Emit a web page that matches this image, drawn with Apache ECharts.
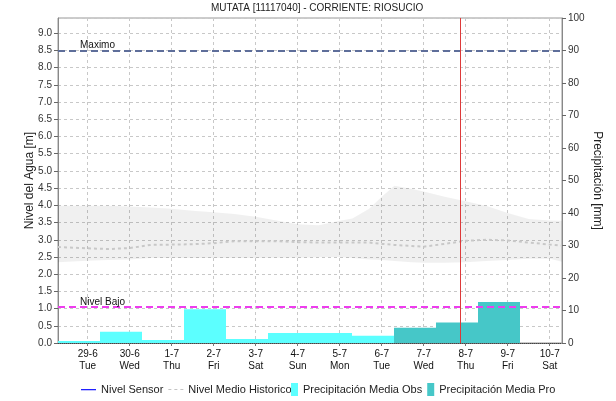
<!DOCTYPE html>
<html>
<head>
<meta charset="utf-8">
<script src="https://cdn.jsdelivr.net/npm/echarts@6/dist/echarts.min.js"></script>
<style>
  html, body { margin: 0; padding: 0; background: #fff; }
  #chart { width: 616px; height: 401px; }
</style>
</head>
<body>
<div id="chart"></div>
<script>
// x values are days counted from 29-6-2021 00:00
const tickPos = [0, 1, 2, 3, 4, 5, 6, 7, 8, 9, 10, 11];
const tickDates = ['29-6', '30-6', '1-7', '2-7', '3-7', '4-7', '5-7', '6-7', '7-7', '8-7', '9-7', '10-7'];
const tickWeekdays = ['Tue', 'Wed', 'Thu', 'Fri', 'Sat', 'Sun', 'Mon', 'Tue', 'Wed', 'Thu', 'Fri', 'Sat'];

// daily precipitation, each period runs 07:00 -> 07:00 next day
const periodStart = [-0.708, 0.292, 1.292, 2.292, 3.292, 4.292, 5.292, 6.292, 7.292, 8.292, 9.292];
const precipObs = [0.6, 3.5, 0.9, 10.4, 1.2, 3.1, 3.1, 2.2, 0.3, null, null];
const precipPro = [null, null, null, null, null, null, null, null, 4.7, 6.3, 12.6];

// historical level (m)
const histX = [-0.708, 0, 0.5, 1, 1.5, 2, 2.5, 3, 3.5, 4, 4.5, 5, 5.5, 6, 6.3, 6.7, 7, 7.3, 7.7, 8, 8.5, 9, 9.5, 10, 10.5, 11, 11.292];
const histUpper = [3.99, 3.99, 3.99, 3.97, 3.94, 3.9, 3.84, 3.8, 3.75, 3.67, 3.56, 3.45, 3.42, 3.55, 3.62, 3.9, 4.25, 4.57, 4.48, 4.4, 4.25, 4.12, 3.98, 3.78, 3.6, 3.56, 3.55];
const histLower = [2.35, 2.39, 2.41, 2.43, 2.47, 2.47, 2.47, 2.47, 2.47, 2.47, 2.48, 2.48, 2.49, 2.5, 2.47, 2.43, 2.41, 2.38, 2.35, 2.33, 2.33, 2.35, 2.38, 2.41, 2.45, 2.45, 2.36];
const histMean = [2.79, 2.75, 2.73, 2.76, 2.85, 2.86, 2.87, 2.9, 2.96, 2.96, 2.96, 2.93, 2.92, 2.92, 2.92, 2.92, 2.88, 2.85, 2.82, 2.8, 2.88, 2.97, 3.0, 2.98, 2.92, 2.86, 2.83];

const nivelMaximo = 8.5;
const nivelBajo = 1.05;
const ahora = 8.875;

const FONT = 'Liberation Sans';

function barData(values) {
  const out = [];
  periodStart.forEach((s, i) => {
    if (values[i] != null) out.push([s, s + 1, values[i]]);
  });
  return out;
}

function renderBar(params, api) {
  const p0 = api.coord([api.value(0), 0]);
  const p1 = api.coord([api.value(1), api.value(2)]);
  return {
    type: 'rect',
    shape: { x: p0[0], y: p1[1], width: p1[0] - p0[0], height: p0[1] - p1[1] },
    style: api.style()
  };
}

// whole band drawn as one polygon, upper edge then lower edge back
function renderBand(params, api) {
  if (params.dataIndex !== 0) return null;
  const pts = [];
  histX.forEach((x, i) => pts.push(api.coord([x, histUpper[i]])));
  for (let i = histX.length - 1; i >= 0; i--) pts.push(api.coord([histX[i], histLower[i]]));
  return {
    type: 'polygon',
    shape: { points: pts },
    style: { fill: 'rgba(0,0,0,0.06)' }
  };
}

const lineIcon = 'path://M0,0 M20,10 M0,4.5 L20,4.5 L20,6 L0,6 Z';
const dashIcon = 'path://M0,0 M20,10 M0,4.3 L4,4.3 L4,5.7 L0,5.7 Z M8,4.3 L12,4.3 L12,5.7 L8,5.7 Z M16,4.3 L20,4.3 L20,5.7 L16,5.7 Z';

const chart = echarts.init(document.getElementById('chart'));

const option = {
  animation: false,
  textStyle: { fontFamily: FONT },
  title: {
    text: 'MUTATA [11117040] - CORRIENTE: RIOSUCIO',
    left: 211,
    top: 3,
    padding: 0,
    textStyle: { fontSize: 10, fontWeight: 'normal', color: '#222', fontFamily: FONT }
  },
  legend: [
    {
      left: 76, top: 379,
      itemWidth: 15, itemHeight: 10, itemGap: 5,
      textStyle: { fontSize: 11, color: '#222', fontFamily: FONT },
      data: [
        { name: 'Nivel Sensor', icon: lineIcon, itemStyle: { color: '#0000ff', borderWidth: 0 } },
        { name: 'Nivel Medio Historico', icon: dashIcon, itemStyle: { color: '#c4c4c4', borderWidth: 0 } }
      ]
    },
    {
      left: 286, top: 378,
      itemWidth: 7, itemHeight: 13, itemGap: 5,
      icon: 'rect',
      textStyle: { fontSize: 11, color: '#222', fontFamily: FONT },
      data: ['Precipitación Media Obs', 'Precipitación Media Pro']
    }
  ],
  grid: {
    left: 58, right: 54, top: 18, bottom: 58,
    show: true, borderColor: '#999', borderWidth: 1
  },
  xAxis: {
    type: 'value',
    min: -0.708,
    max: 11.292,
    axisLine: { onZero: false, lineStyle: { color: '#444', type: 'dotted', width: 1 } },
    axisTick: { show: true, customValues: tickPos, length: 3, lineStyle: { color: '#777' } },
    axisLabel: {
      customValues: tickPos,
      fontSize: 10, color: '#111', lineHeight: 12, margin: 5,
      formatter: v => {
        const i = Math.round(v);
        return tickDates[i] + '\n' + tickWeekdays[i];
      }
    },
    splitLine: { show: true, lineStyle: { color: '#c8c8c8', type: [3, 3] } }
  },
  yAxis: [
    {
      type: 'value',
      min: 0,
      max: 9.444,
      interval: 0.5,
      name: 'Nivel del Agua [m]',
      nameLocation: 'middle',
      nameGap: 22,
      nameMoveOverlap: false,
      nameRotate: 90,
      nameTextStyle: { fontSize: 12, color: '#222', fontFamily: FONT },
      axisLine: { show: true, onZero: false, lineStyle: { color: '#888' } },
      axisTick: { show: true, length: 4, lineStyle: { color: '#666' } },
      axisLabel: {
        fontSize: 10, color: '#333', margin: 6, showMaxLabel: false,
        formatter: v => v.toFixed(1)
      },
      splitLine: { show: true, lineStyle: { color: '#c8c8c8', type: [3, 3] } }
    },
    {
      type: 'value',
      min: 0,
      max: 100,
      interval: 10,
      position: 'right',
      name: 'Precipitación [mm]',
      nameLocation: 'middle',
      nameGap: 29,
      nameMoveOverlap: false,
      nameRotate: -90,
      nameTextStyle: { fontSize: 12, color: '#222', fontFamily: FONT },
      axisLine: { show: true, onZero: false, lineStyle: { color: '#888' } },
      axisTick: { show: true, length: 4, lineStyle: { color: '#666' } },
      axisLabel: { fontSize: 10, color: '#333', margin: 6 },
      splitLine: { show: false }
    }
  ],
  series: [
    {
      name: 'histBand',
      type: 'custom',
      renderItem: renderBand,
      silent: true,
      encode: { x: 0, y: [1, 2] },
      data: histX.map((x, i) => [x, histLower[i], histUpper[i]]),
      z: 1
    },
    {
      name: 'Precipitación Media Obs',
      type: 'custom',
      yAxisIndex: 1,
      renderItem: renderBar,
      clip: true,
      itemStyle: { color: '#5cffff' },
      encode: { x: [0, 1], y: 2 },
      data: barData(precipObs),
      z: 2
    },
    {
      name: 'Precipitación Media Pro',
      type: 'custom',
      yAxisIndex: 1,
      renderItem: renderBar,
      clip: true,
      itemStyle: { color: '#46c7c8' },
      encode: { x: [0, 1], y: 2 },
      data: barData(precipPro),
      z: 3
    },
    {
      name: 'Nivel Medio Historico',
      type: 'line',
      color: '#c4c4c4',
      data: histX.map((x, i) => [x, histMean[i]]),
      symbol: 'none',
      itemStyle: { color: '#c4c4c4' },
      lineStyle: { color: '#c8c8c8', width: 2, type: [3, 3] },
      z: 4,
      markLine: {
        silent: true,
        symbol: 'none',
        animation: false,
        data: [
          {
            yAxis: nivelMaximo,
            lineStyle: { color: '#5e6e9a', width: 2, type: [7, 4] },
            label: {
              show: true, formatter: 'Maximo', position: 'insideStartTop',
              distance: 0, padding: [0, 0, 0, 22],
              fontSize: 10, color: '#111', fontFamily: FONT
            }
          },
          {
            yAxis: nivelBajo,
            lineStyle: { color: '#ee3cee', width: 2, type: [7, 4] },
            label: {
              show: true, formatter: 'Nivel Bajo', position: 'insideStartTop',
              distance: 0, padding: [0, 0, 0, 22],
              fontSize: 10, color: '#111', fontFamily: FONT
            }
          },
          {
            xAxis: ahora,
            lineStyle: { color: '#dd3a3a', width: 1, type: 'solid' },
            label: { show: false }
          }
        ]
      }
    },
    {
      name: 'Nivel Sensor',
      type: 'line',
      color: '#0000ff',
      data: [],
      symbol: 'none',
      itemStyle: { color: '#0000ff' },
      lineStyle: { color: '#0000ff', width: 1.5 },
      z: 5
    }
  ]
};

chart.setOption(option);
</script>
</body>
</html>
